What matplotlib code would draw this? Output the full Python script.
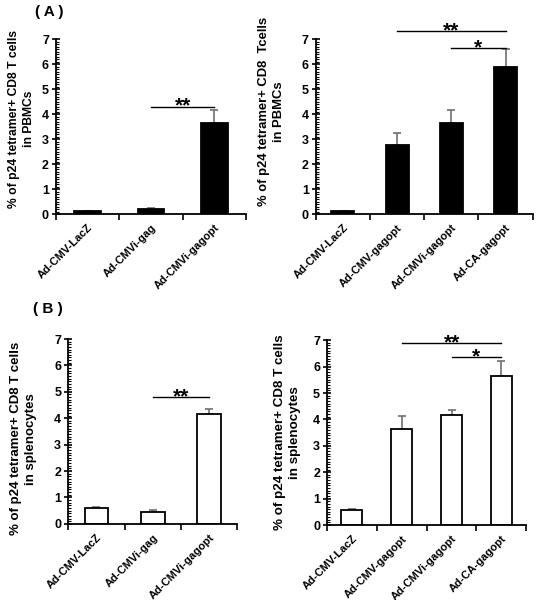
import matplotlib
matplotlib.use("Agg")
import matplotlib.pyplot as plt
from matplotlib.ticker import MultipleLocator

plt.rcParams['font.family'] = ['Liberation Sans', 'DejaVu Sans']
plt.rcParams['font.weight'] = 'bold'

# data
labels_a1 = ['Ad-CMV-LacZ', 'Ad-CMVi-gag', 'Ad-CMVi-gagopt']
vals_a1 = [0.12, 0.21, 3.65]
err_a1 = [0.02, 0.04, 0.5]

labels_a2 = ['Ad-CMV-LacZ', 'Ad-CMV-gagopt', 'Ad-CMVi-gagopt', 'Ad-CA-gagopt']
vals_a2 = [0.12, 2.75, 3.65, 5.9]
err_a2 = [0.02, 0.5, 0.5, 0.7]

labels_b1 = ['Ad-CMV-LacZ', 'Ad-CMVi-gag', 'Ad-CMVi-gagopt']
vals_b1 = [0.58, 0.45, 4.15]
err_b1 = [0.05, 0.07, 0.2]

labels_b2 = ['Ad-CMV-LacZ', 'Ad-CMV-gagopt', 'Ad-CMVi-gagopt', 'Ad-CA-gagopt']
vals_b2 = [0.58, 3.65, 4.15, 5.65]
err_b2 = [0.03, 0.47, 0.2, 0.55]

# significance brackets: (from bar, to bar, height, stars)
sig_a1 = [(1, 2, 4.3, '**')]
sig_a2 = [(1, 3, 7.32, '**'), (2, 3, 6.64, '*')]
sig_b1 = [(1, 2, 4.8, '**')]
sig_b2 = [(1, 3, 6.9, '**'), (2, 3, 6.37, '*')]


def panel(ax, labels, vals, err, sigs, fill, ylab, ylab_size, ylab_xy):
    n = len(labels)
    x = list(range(n))
    ax.bar(x, vals, width=0.42, color=fill, edgecolor='black', linewidth=1.3, zorder=2)
    ax.errorbar(x, vals, yerr=[[0] * n, err], fmt='none', ecolor='#707070',
                elinewidth=1.2, capsize=3, capthick=1.2, zorder=1)
    ax.set_xlim(-0.5, n - 0.5)
    ax.set_ylim(0, 7)
    ax.spines['top'].set_visible(False)
    ax.spines['right'].set_visible(False)
    ax.spines['left'].set_linewidth(1.3)
    ax.spines['bottom'].set_linewidth(1.3)
    ax.yaxis.set_major_locator(MultipleLocator(1))
    ax.yaxis.set_minor_locator(MultipleLocator(0.1))
    ax.tick_params(axis='y', which='major', direction='inout', length=6, width=1.2,
                   labelsize=9, pad=2)
    ax.tick_params(axis='y', which='minor', direction='in', length=2, width=0.8)
    ax.set_xticks(x)
    ax.set_xticklabels(labels, rotation=45, ha='right', rotation_mode='anchor', fontsize=8)
    ax.set_xticks([i - 0.5 for i in range(n + 1)], minor=True)
    ax.tick_params(axis='x', which='major', length=0, pad=6)
    ax.tick_params(axis='x', which='minor', direction='out', length=4, width=1.2)
    for a, b, h, s in sigs:
        ax.plot([a, b], [h, h], color='black', linewidth=1, clip_on=False)
        ax.annotate(s, xy=((a + b) / 2, h), xytext=(0, -3.8), textcoords='offset points',
                    ha='center', va='baseline', fontsize=15, fontweight='bold',
                    annotation_clip=False)
    ax.set_ylabel(ylab, fontsize=ylab_size, fontweight='bold', linespacing=1.35)
    ax.yaxis.set_label_coords(*ylab_xy)


fig = plt.figure(figsize=(5.37, 6.0), dpi=100)

ax1 = fig.add_axes([0.104, 0.643, 0.354, 0.292])
panel(ax1, labels_a1, vals_a1, err_a1, sig_a1, 'black',
      '% of p24 tetramer+ CD8 T cells\nin PBMCs', 8.7, (-0.11, 0.545))

ax2 = fig.add_axes([0.588, 0.643, 0.404, 0.292])
panel(ax2, labels_a2, vals_a2, err_a2, sig_a2, 'black',
      '% of p24 tetramer+ CD8  Tcells\nin PBMCs', 9.4, (-0.143, 0.586))

ax3 = fig.add_axes([0.127, 0.127, 0.315, 0.308])
panel(ax3, labels_b1, vals_b1, err_b1, sig_b1, 'white',
      '% of p24 tetramer+ CD8 T cells\nin splenocytes', 9.5, (-0.183, 0.46))

ax4 = fig.add_axes([0.609, 0.125, 0.371, 0.308])
panel(ax4, labels_b2, vals_b2, err_b2, sig_b2, 'white',
      '% of p24 tetramer+ CD8 T cells\nin splenocytes', 9.6, (-0.13, 0.5))

fig.text(0.065, 0.98, '( A )', fontsize=11, fontweight='bold', va='center')
fig.text(0.061, 0.485, '( B )', fontsize=11, fontweight='bold', va='center')

fig.savefig('out.png', dpi=100)
